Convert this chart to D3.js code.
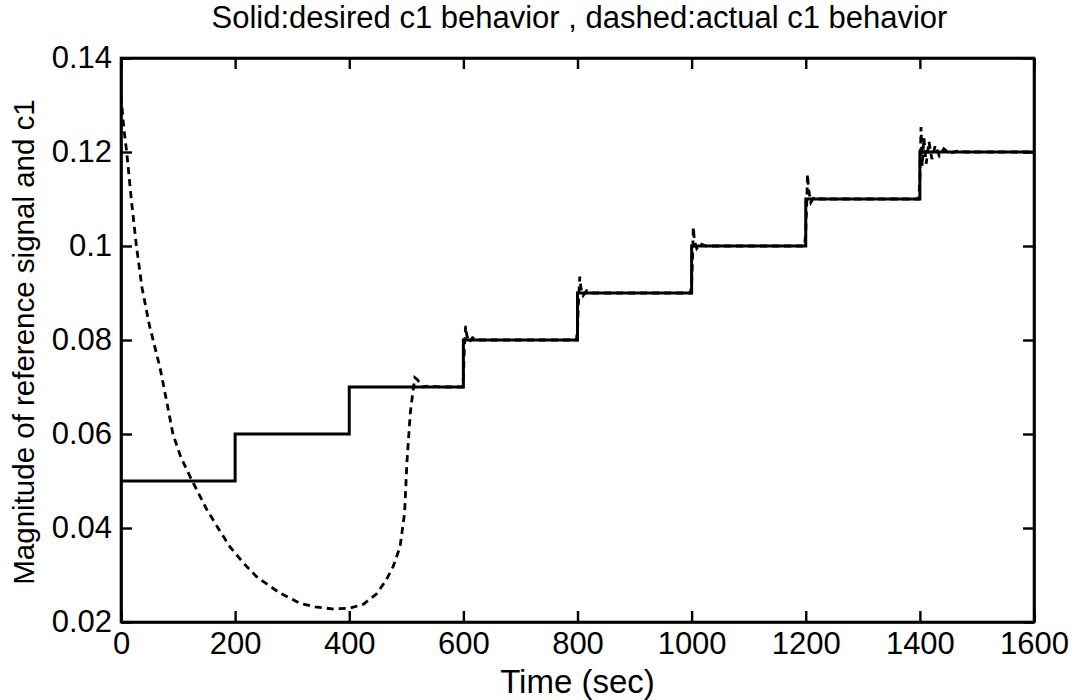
<!DOCTYPE html>
<html>
<head>
<meta charset="utf-8">
<script src="https://cdn.jsdelivr.net/npm/d3@7"></script>
<style>
  html, body { margin: 0; padding: 0; background: #fff; }
  svg { display: block; }
  text { font-family: "Liberation Sans", Arial, Helvetica, sans-serif; fill: #000; }
</style>
</head>
<body>
<svg id="chart" width="1079" height="700"></svg>
<script>
// ---- data ----
const titleText = "Solid:desired c1 behavior , dashed:actual c1 behavior";
const xLabelText = "Time (sec)";
const yLabelText = "Magnitude of reference signal and c1";

const xTicks = [0, 200, 400, 600, 800, 1000, 1200, 1400, 1600];
const xTickLabels = ["0", "200", "400", "600", "800", "1000", "1200", "1400", "1600"];
const yTicks = [0.02, 0.04, 0.06, 0.08, 0.10, 0.12, 0.14];
const yTickLabels = ["0.02", "0.04", "0.06", "0.08", "0.1", "0.12", "0.14"];

// desired (solid) step signal: step start times and levels
const stepTimes  = [0, 200, 400, 600, 800, 1000, 1200, 1400, 1600];
const stepLevels = [0.05, 0.06, 0.07, 0.08, 0.09, 0.10, 0.11, 0.12, 0.12];

// actual (dashed) c1 response
const actualTime = [0, 5, 10, 18, 27, 37, 50, 68, 80, 91, 105, 124, 150, 170, 191, 215, 238, 260, 278, 313, 340, 370, 400, 425, 448, 465, 477, 489, 497, 501, 507, 512, 515, 520, 528, 540, 560, 598,
  600, 602, 604, 606, 610, 616, 625, 798,
  800, 802, 804, 806, 810, 816, 825, 998,
  1000, 1002, 1003, 1005, 1009, 1015, 1025, 1198,
  1200, 1202, 1203, 1205, 1209, 1215, 1225, 1398,
  1400, 1402, 1404, 1407, 1411, 1416, 1421, 1427, 1434, 1442, 1452, 1465, 1480, 1600];
const actualValue = [0.132, 0.125, 0.12, 0.11, 0.10, 0.091, 0.083, 0.0743, 0.067, 0.060, 0.055, 0.0502, 0.044, 0.040, 0.036, 0.0325, 0.0296, 0.0277, 0.0262, 0.024, 0.0232, 0.0228, 0.0229, 0.0238, 0.026, 0.029, 0.0318, 0.036, 0.0432, 0.0538, 0.0645, 0.0694, 0.072, 0.0715, 0.070, 0.0702, 0.070, 0.070,
  0.072, 0.079, 0.083, 0.081, 0.0795, 0.0805, 0.080, 0.080,
  0.082, 0.089, 0.0935, 0.091, 0.0895, 0.0905, 0.090, 0.090,
  0.092, 0.099, 0.104, 0.101, 0.0995, 0.1005, 0.100, 0.100,
  0.103, 0.110, 0.1153, 0.112, 0.1093, 0.1105, 0.110, 0.110,
  0.114, 0.1253, 0.117, 0.123, 0.1175, 0.1222, 0.1185, 0.1214, 0.1192, 0.1207, 0.1197, 0.1202, 0.120, 0.120];

// ---- layout ----
const plotLeft = 121, plotRight = 1034, plotTop = 58, plotBottom = 622;
const tickLen = 11;

const svg = d3.select("#chart");
const x = d3.scaleLinear().domain([0, 1600]).range([plotLeft, plotRight]);
const y = d3.scaleLinear().domain([0.02, 0.14]).range([plotBottom, plotTop]);

svg.append("defs").append("clipPath").attr("id", "clip")
  .append("rect").attr("x", plotLeft).attr("y", plotTop)
  .attr("width", plotRight - plotLeft).attr("height", plotBottom - plotTop);

const g = svg.append("g").attr("clip-path", "url(#clip)");

// solid desired
const solidData = stepTimes.map((t, i) => [t, stepLevels[i]]);
g.append("path")
  .datum(solidData)
  .attr("fill", "none")
  .attr("stroke", "#000")
  .attr("stroke-width", 3)
  .attr("d", d3.line().x(d => x(d[0])).y(d => y(d[1])).curve(d3.curveStepAfter));

// dashed actual
const dashedData = actualTime.map((t, i) => [t, actualValue[i]]);
g.append("path")
  .datum(dashedData)
  .attr("fill", "none")
  .attr("stroke", "#000")
  .attr("stroke-width", 2.8)
  .attr("stroke-dasharray", "7,5")
  .attr("d", d3.line().x(d => x(d[0])).y(d => y(d[1])));

// axes (ticks inward on all four sides)
const fontSize = 31;
const axBottom = svg.append("g").attr("transform", `translate(0,${plotBottom})`)
  .call(d3.axisBottom(x).tickValues(xTicks).tickFormat((d, i) => xTickLabels[i])
    .tickSizeInner(-tickLen).tickSizeOuter(0).tickPadding(10));
const axTop = svg.append("g").attr("transform", `translate(0,${plotTop})`)
  .call(d3.axisTop(x).tickValues(xTicks).tickFormat("").tickSizeInner(-tickLen).tickSizeOuter(0));
const axLeft = svg.append("g").attr("transform", `translate(${plotLeft},0)`)
  .call(d3.axisLeft(y).tickValues(yTicks).tickFormat((d, i) => yTickLabels[i])
    .tickSizeInner(-tickLen).tickSizeOuter(0).tickPadding(9));
const axRight = svg.append("g").attr("transform", `translate(${plotRight},0)`)
  .call(d3.axisRight(y).tickValues(yTicks).tickFormat("").tickSizeInner(-tickLen).tickSizeOuter(0));

[axBottom, axTop, axLeft, axRight].forEach(a => {
  a.select(".domain").attr("stroke", "#000").attr("stroke-width", 2.6);
  a.selectAll(".tick line").attr("stroke", "#000").attr("stroke-width", 2.4);
  a.selectAll("text").attr("font-family", "Liberation Sans, Arial, sans-serif")
    .attr("font-size", fontSize).attr("fill", "#000");
});
axBottom.selectAll("text").attr("dy", "0.71em");

svg.append("rect").attr("x", plotLeft).attr("y", plotTop)
  .attr("width", plotRight - plotLeft).attr("height", plotBottom - plotTop)
  .attr("fill", "none").attr("stroke", "#000").attr("stroke-width", 2.6);

// title & labels
svg.append("text").attr("x", (plotLeft + plotRight) / 2 + 2).attr("y", 28)
  .attr("text-anchor", "middle").attr("font-size", 31).text(titleText);
svg.append("text").attr("x", (plotLeft + plotRight) / 2).attr("y", 693)
  .attr("text-anchor", "middle").attr("font-size", 33).text(xLabelText);
svg.append("text")
  .attr("transform", `translate(34,${(plotTop + plotBottom) / 2 + 2}) rotate(-90)`)
  .attr("text-anchor", "middle").attr("font-size", 29.5).text(yLabelText);
</script>
</body>
</html>
